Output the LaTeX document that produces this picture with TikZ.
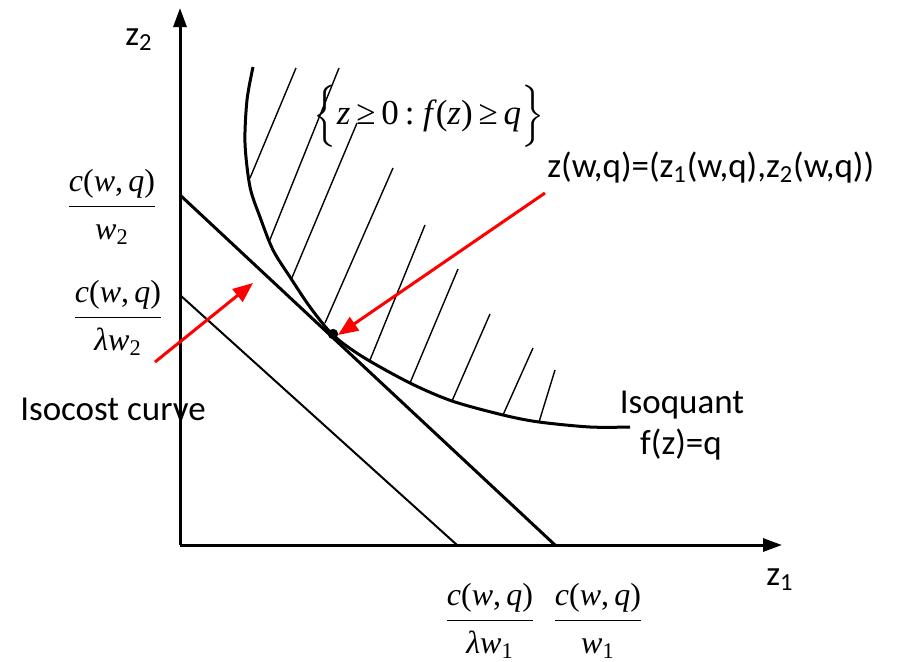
\documentclass[tikz,border=0pt]{standalone}
\usepackage{amsmath}
\usepackage{fontspec}
\setmainfont{Carlito}
\newfontfamily\tms{Liberation Serif}
\usepackage{tikz}
\usetikzlibrary{arrows.meta}

\newcommand{\mi}[1]{\text{\tms\itshape #1}}
\newcommand{\mr}[1]{\text{\tms #1}}
\newcommand{\cwq}{\text{\tms\itshape c\upshape(\itshape w\upshape,\,\itshape q\upshape)}}

\tikzset{
  axis/.style={line width=1.5pt, -{Triangle[length=9.5pt,width=6.5pt]}},
  pointer/.style={red, line width=1.5pt, -{Triangle[length=10pt,width=8pt]}},
  hatch/.style={line width=0.7pt},
  lbl/.style={font=\fontsize{17.5}{21}\selectfont, inner sep=0pt},
  frac/.style={font=\fontsize{16}{19}\selectfont, inner sep=0pt}
}

\begin{document}
\begin{tikzpicture}[x=0.5pt, y=-0.5pt]
  \useasboundingbox (0,0) rectangle (900,661);
  % axes
  \coordinate (O) at (180,545);
  \draw[axis] (O) -- (180,8);
  \draw[axis] (O) -- (782,545);
  \node[lbl, anchor=base west] (ztwo) at (125,45) {z\textsubscript{2}};
  \node[lbl, anchor=base west] (zone) at (766,585) {z\textsubscript{1}};
  % isocost lines
  \draw[line width=1.5pt] (180,195) -- (555,545);
  \draw[line width=1pt] (180,295) -- (457,545);
  % isoquant and upper set
  \draw[line width=1.5pt] plot[smooth] coordinates {(253,67) (247,100) (245,143) (250,187) (260,217) (273,250) (290,277) (310,307) (333,335) (363,357) (410,383) (452,401) (503,415) (539,422) (590,427) (630,427)};
  \foreach \a/\b in {{(250,178)}/{(296,68)}, {(269,242)}/{(339,68)}, {(291,280)}/{(357,123)}, {(325,323)}/{(393,168)}, {(370,360)}/{(425,225)}, {(410,383)}/{(458,269)}, {(452,401)}/{(490,314)}, {(503,415)}/{(533,348)}, {(539,422)}/{(555,370)}}
    \draw[hatch] \a -- \b;
  \coordinate (T) at (333,334);
  \fill (T) circle (2.6pt);
  \node[frac, font=\fontsize{17.5}{20}\selectfont] (upset) at (429,116) {$\Bigl\{\text{\tms\itshape z\upshape\,≥\,0\,:\ \itshape f\upshape\kern.08em(\itshape z\upshape)\,≥\,\itshape q}\Bigr\}$};
  % labels
  \node[lbl, anchor=base west] (zstar) at (547,177) {z(w,q)=(z\textsubscript{1}(w,q),z\textsubscript{2}(w,q))};
  \node[lbl, anchor=base] (isoq) at (682,413) {Isoquant};
  \node[lbl, anchor=base] (isoqf) at (681,454) {f(z)=q};
  \node[lbl, anchor=base] (isoc) at (113,420) {Isocost curve};
  \node[frac] (yhi) at (112,207) {$\dfrac{\cwq}{\mi{w}_{\mr{2}}}$};
  \node[frac] (ylo) at (118,318) {$\dfrac{\cwq}{\mi{λw}_{\mr{2}}}$};
  \node[frac] (xlo) at (490,621) {$\dfrac{\cwq}{\mi{λw}_{\mr{1}}}$};
  \node[frac] (xhi) at (598,621) {$\dfrac{\cwq}{\mi{w}_{\mr{1}}}$};
  % red pointers
  \coordinate (p1) at (545,193);
  \coordinate (p2) at (155,362);
  \coordinate (p2t) at (253,283);
  \draw[pointer] (p1) -- (338,335);
  \draw[pointer] (p2) -- (p2t);
\end{tikzpicture}
\end{document}
